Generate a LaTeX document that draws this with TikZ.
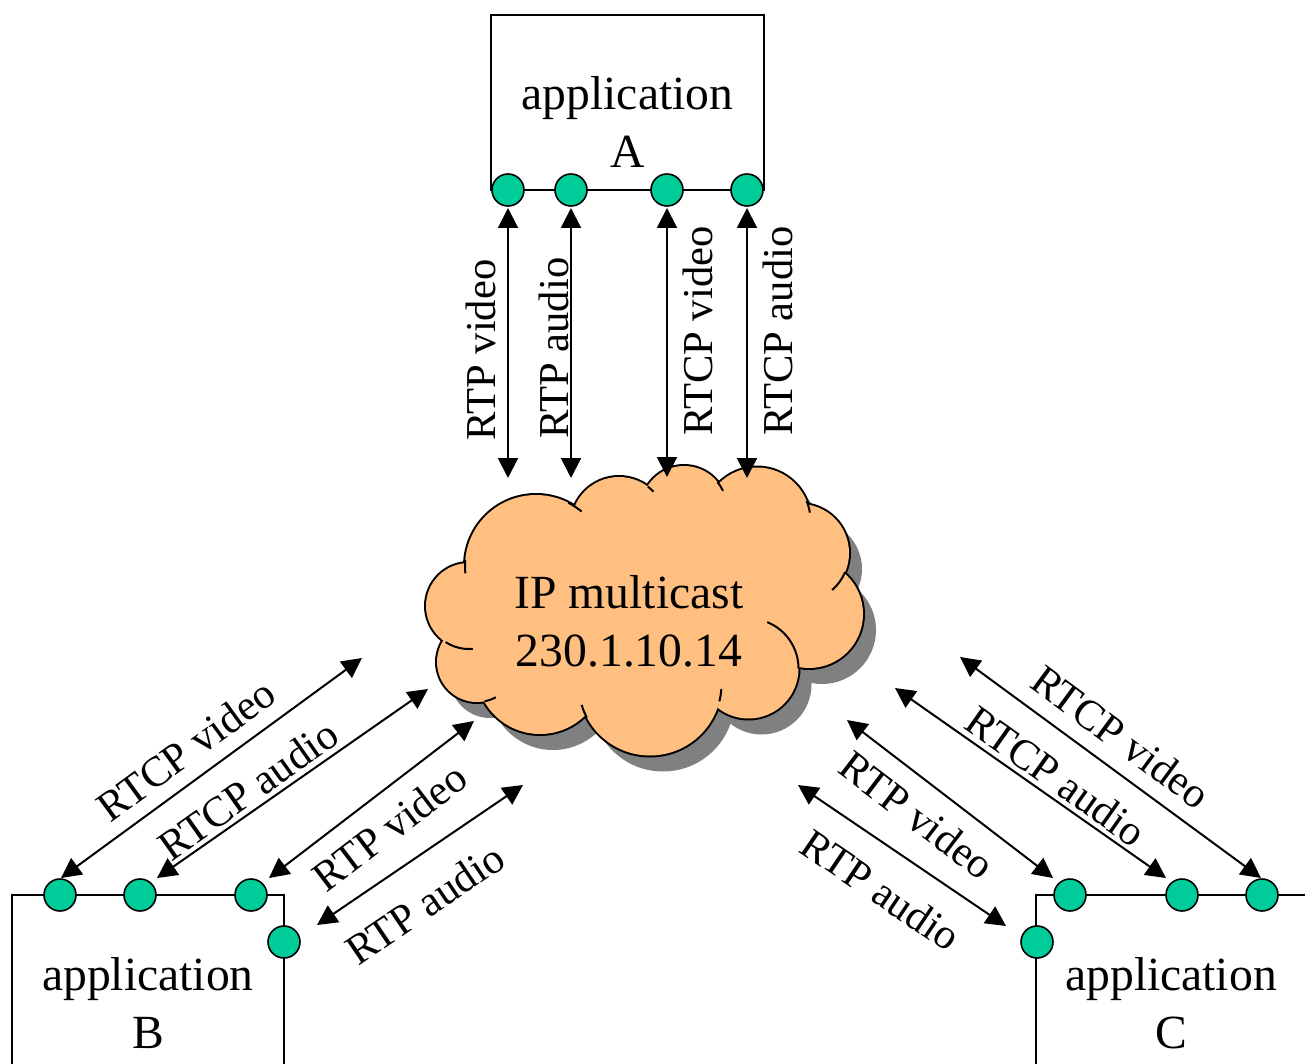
\documentclass[tikz,border=0pt]{standalone}
\usepackage{fontspec}
\setmainfont{Liberation Serif}
\usetikzlibrary{arrows.meta}
\definecolor{dotgreen}{RGB}{0,204,153}
\definecolor{cloudfill}{RGB}{255,191,128}
\definecolor{shadowgray}{RGB}{128,128,128}
\def\cloudpuffs{536/566/71, 619/525/48, 684/509/43, 757/521/53.5, 800/553/49, 809/614/54, 748.5/668.5/50, 650/684/71.5, 540/670/64, 477/662/40, 469/606/43}
\begin{document}
\begin{tikzpicture}[x=1pt,y=-1pt,
  >={Triangle[length=20pt,width=20pt]},
  dot/.style={circle,draw=black,line width=1.6pt,fill=dotgreen,minimum size=32pt,inner sep=0pt,outer sep=0pt},
  box/.style={draw=black,line width=2pt,inner sep=0pt,outer sep=0pt},
  link/.style={line width=2pt,<->},
  lbl/.style={font=\fontsize{42.6}{51}\selectfont,inner sep=0pt},
  big/.style={font=\fontsize{47.6}{58}\selectfont,inner sep=0pt},
  hook/.style={line width=2pt}]
\useasboundingbox (0,0) rectangle (1305,1064);

% ---- cloud: shadow, outline, fill, inner hooks
\foreach \cx/\cy/\r in \cloudpuffs {\fill[shadowgray] (\cx+13,\cy+16) circle[radius=\r];}
\fill[shadowgray] (653,626) ellipse[x radius=150,y radius=90];
\foreach \cx/\cy/\r in \cloudpuffs {\draw[line width=4pt] (\cx,\cy) circle[radius=\r];}
\foreach \cx/\cy/\r in \cloudpuffs {\fill[cloudfill] (\cx,\cy) circle[radius=\r];}
\fill[cloudfill] (640,610) ellipse[x radius=150,y radius=90];
\draw[hook] (536,566) ++(185:71) arc[start angle=185,end angle=174,radius=71];
\draw[hook] (536,566) ++(-63:71) arc[start angle=-63,end angle=-50,radius=71];
\draw[hook] (619,525) ++(-53:48) arc[start angle=-53,end angle=-44,radius=48];
\draw[hook] (684,509) ++(-39:43) arc[start angle=-39,end angle=-25,radius=43];
\draw[hook] (757,521) ++(-22:53.5) arc[start angle=-22,end angle=-9,radius=53.5];
\draw[hook] (800,553) ++(23:49) arc[start angle=23,end angle=49,radius=49];
\draw[hook] (748.5,668.5) ++(0:50) arc[start angle=0,end angle=-68,radius=50];
\draw[hook] (650,684) ++(14:71.5) arc[start angle=14,end angle=4,radius=71.5];
\draw[hook] (650,684) ++(152:71.5) arc[start angle=152,end angle=163,radius=71.5];
\draw[hook] (477,662) ++(79:40) arc[start angle=79,end angle=62,radius=40];
\draw[hook] (469,606) ++(123:43) arc[start angle=123,end angle=85,radius=43];
\node[big,anchor=base] (cloudtxt) at (629,608) {\begin{tabular}[t]{@{}c@{}}IP multicast\\230.1.10.14\end{tabular}};

% ---- boxes
\node[box,minimum width=273pt,minimum height=175pt,anchor=north west] (boxA) at (491,15) {};
\node[box,minimum width=272pt,minimum height=180pt,anchor=north west] (boxB) at (12,895) {};
\node[box,minimum width=274pt,minimum height=180pt,anchor=north west] (boxC) at (1036,895) {};
\node[big,anchor=base] (txtA) at (627.5,110) {\begin{tabular}[t]{@{}c@{}}application\\A\end{tabular}};
\node[big,anchor=base] (txtB) at (148,990) {\begin{tabular}[t]{@{}c@{}}application\\B\end{tabular}};
\node[big,anchor=base] (txtC) at (1171,990) {\begin{tabular}[t]{@{}c@{}}application\\C\end{tabular}};

% ---- ports
\node[dot] (a1) at (508,190) {};
\node[dot] (a2) at (571,190) {};
\node[dot] (a3) at (667,190) {};
\node[dot] (a4) at (747,190) {};
\node[dot] (b1) at (60,895) {};
\node[dot] (b2) at (140,895) {};
\node[dot] (b3) at (251,895) {};
\node[dot] (b4) at (284,942) {};
\node[dot] (c1) at (1262,895) {};
\node[dot] (c2) at (1182,895) {};
\node[dot] (c3) at (1070,895) {};
\node[dot] (c4) at (1037,942) {};

% ---- arrow end points
\coordinate (ea1) at (508,478);
\coordinate (ea2) at (571,478);
\coordinate (ea3) at (667,477);
\coordinate (ea4) at (747,478);
\coordinate (sb1) at (61,878);   \coordinate (eb1) at (362,658);
\coordinate (sb2) at (157,878);  \coordinate (eb2) at (428,689);
\coordinate (sb3) at (269,878);  \coordinate (eb3) at (474,721);
\coordinate (sb4) at (317,925);  \coordinate (eb4) at (523,785);
\coordinate (sc1) at (1261,878); \coordinate (ec1) at (960,657);
\coordinate (sc2) at (1166,878); \coordinate (ec2) at (895,688);
\coordinate (sc3) at (1053,878); \coordinate (ec3) at (847,720);
\coordinate (sc4) at (1006,926); \coordinate (ec4) at (798,785);

% ---- arrows
\draw[link] ([yshift=-2pt]a1.south) -- (ea1);
\draw[link] ([yshift=-2pt]a2.south) -- (ea2);
\draw[link] ([yshift=-2pt]a3.south) -- (ea3);
\draw[link] ([yshift=-2pt]a4.south) -- (ea4);
\draw[link] (sb1) -- (eb1);
\draw[link] (sb2) -- (eb2);
\draw[link] (sb3) -- (eb3);
\draw[link] (sb4) -- (eb4);
\draw[link] (sc1) -- (ec1);
\draw[link] (sc2) -- (ec2);
\draw[link] (sc3) -- (ec3);
\draw[link] (sc4) -- (ec4);

% ---- labels
\node[lbl,rotate=90,anchor=base] (la1) at (495,350) {RTP video};
\node[lbl,rotate=90,anchor=base] (la2) at (568,348) {RTP audio};
\node[lbl,rotate=90,anchor=base] (la3) at (712,331) {RTCP video};
\node[lbl,rotate=90,anchor=base] (la4) at (792,331) {RTCP audio};
\node[lbl,rotate=36.2] (lb1) at (186,750) {RTCP video};
\node[lbl,rotate=35.3] (lb2) at (248,790) {RTCP audio};
\node[lbl,rotate=37.3] (lb3) at (390,827) {RTP video};
\node[lbl,rotate=34.1] (lb4) at (425,904) {RTP audio};
\node[lbl,rotate=-36.4] (lc1) at (1121,737) {RTCP video};
\node[lbl,rotate=-35.3] (lc2) at (1056,776) {RTCP audio};
\node[lbl,rotate=-37.3] (lc3) at (917,815) {RTP video};
\node[lbl,rotate=-34.1] (lc4) at (881,890) {RTP audio};
\end{tikzpicture}
\end{document}
